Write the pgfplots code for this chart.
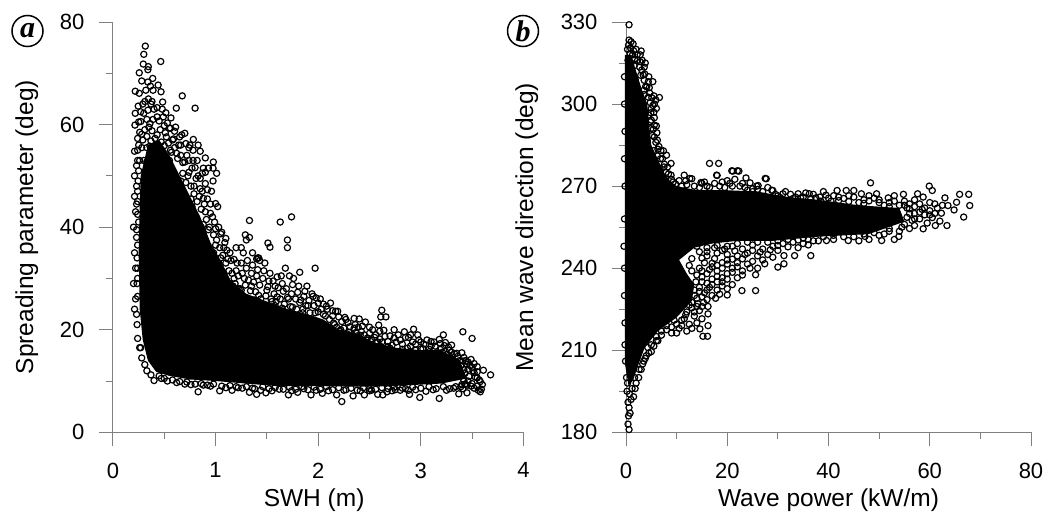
\documentclass[border=0pt]{standalone}
\usepackage{pgfplots}
\pgfplotsset{compat=1.18}
\usepackage{fontspec}
\setmainfont{Liberation Sans}
\newfontfamily\lserif{Liberation Serif}
\definecolor{axgray}{HTML}{808080}
\pgfplotsset{
  panel/.style={
    scale only axis, clip=false, anchor=south west,
    axis x line=bottom, axis y line=left, axis line style={-,axgray,line width=1pt},
    tick style={axgray,line width=1pt}, tick align=outside,
    major tick length=14pt, minor tick length=7pt, minor tick num=1,
    tick label style={font=\fontsize{22}{22}\selectfont,/pgf/number format/assume math mode=true},
    xticklabel style={yshift=-13pt}, yticklabel style={xshift=-11pt},
  },
  pts/.style={only marks, mark=o, mark size=3.1pt, mark options={black,line width=1.2pt}},
  core/.style={draw=none, fill=black, forget plot},
}
\begin{document}
\begin{tikzpicture}[x=1pt,y=1pt]
\useasboundingbox (0,0) rectangle (1053,515);
% ---------------- panel a
\begin{axis}[panel, at={(113pt,82.7pt)}, width=410.4pt, height=410.3pt,
  xmin=0, xmax=4, ymin=0, ymax=80, xtick={0,1,2,3,4}, ytick={0,20,40,60,80},
  xlabel={SWH (m)}, ylabel={Spreading parameter (deg)},
  every axis x label/.style={at={(axis description cs:0.49,-0.166)},anchor=center,font=\fontsize{24.5}{26}\selectfont},
  every axis y label/.style={at={(axis description cs:-0.21,0.5)},rotate=90,anchor=center,font=\fontsize{24.5}{26}\selectfont}]
% region where overlapping markers saturate to solid black: outline
\addplot[core] coordinates {(.27,50)(.34,56)(.45,57)(.55,54)(.65,50)(.75,46)(.85,42)(.95,37)(1.05,33.5)(1.15,29.5)(1.3,27)(1.5,25.5)(1.7,24)(1.9,23)(2.05,22)(2.2,20)(2.4,19)(2.55,17.5)(2.75,16.5)(3,16)(3.2,16)(3.38,14)(3.45,10.5)(3.2,9.5)(3,9.3)(2.7,9)(2.4,8.9)(2,9)(1.6,9)(1.3,9.5)(1,10)(.75,10.3)(.55,11)(.42,11.8)(.34,14)(.29,18)(.26,24)(.25,35)(.26,44)} -- cycle;
\addplot[pts] coordinates {
(.315,75.3)(.30,73.7)(.465,72.3)(.295,71.8)(.344,71.3)(.34,70.7)(.256,70.1)(.28,68.5)(.387,69)(.34,68.3)(.44,67.7)(.365,67.5)(.217,66.5)(.256,66.1)(.32,66.7)(.468,66.4)(.39,66.7)(.675,65.6)(.484,64.4)(.8,63.2)(.617,63.2)(.345,65)(.37,64)(.246,63.6)(.217,62.2)(.3,62.2)(.4,63)(.43,63.3)(.48,63)(.515,62.3)(.565,61.3)(.214,59.9)(.33,61)(.27,60.6)(.36,60.2)(.45,60.7)(.5,59.8)(.55,59.3)(.6,58.7)(.38,58.8)(.28,58.1)(.24,57.3)(.33,57.7)(.43,58)(.52,57.6)(.59,57.2)(.65,57.6)
(.70,58.3)(.783,57.1)(.83,56)(.66,56)(.75,56)(.74,55.5)(.85,54.8)(.9,53.5)(.978,52.7)(.93,51.5)(1.01,50.5)(.88,51.5)(.87,50.5)(.83,50)(.975,51.5)(.975,49)(.9,50.7)(.72,54)(.78,53)(.8,51.6)(.68,52.6)(.62,54.4)(.56,55)(.74,50.7)(.71,48.7)(.79,48)(.85,47.5)(.92,47.3)(.88,45.6)(.95,44.5)(.82,45)(.76,45.5)(.9,43)(.97,42)(1.02,44)(1,39.7)(1.05,38.7)(1.1,37.8)(1.08,36)(.93,39.5)(.88,40.5)(1,36.5)(1.12,33.8)(1.05,34)(.98,35)(1.15,33.5)(1.18,33.7)(.21,54.8)(.23,52)(.24,55)
(.21,24)(.22,26)(.2,29)(.22,32)(.21,35)(.23,38)(.2,40)(.22,43)(.21,46)(.23,48)(.21,50)(.24,45)(.25,41)(.24,30)(.235,21)(.24,18.3)(.28,14.5)(.33,12)(.4,10.1)(.27,16.5)(.31,13.2)(.37,11.2)
(1.33,41.3)(1.63,41)(1.74,42)(1.29,38.5)(1.33,38)(1.53,36.1)(1.51,36.9)(1.41,34)(1.7,37.5)(1.7,36)(1.97,32)(1.82,31.2)(1.68,32)(1.72,30.5)(1.2,36)(1.25,36)(1.3,37.5)(1.36,35)(1.4,33.8)(1.42,34)(1.43,33.5)(1.25,33)(1.2,31.5)(1.3,32)(1.35,31)(1.28,30)(1.18,30)(1.4,30.5)(1.47,31.5)(1.52,29.5)(1.6,30.3)(1.58,28.5)(1.65,29)(1.75,28.8)(1.8,27.3)(1.87,27.5)(1.95,26.5)(1.5,27.7)(1.35,28.5)(1.25,27.7)(1.42,26.7)(1.6,26.4)(1.7,26.3)(1.82,25.3)(1.9,24.7)(2,25.2)(2.08,24.6)(2.14,23.7)(1.97,23.3)(2.05,23)(1.55,25.5)(1.3,26.2)(1.45,25)(1.75,24.4)(1.65,24.2)(1.85,23.3)
(2.19,23.6)(2.26,22.4)(2.35,22.2)(2.40,22.1)(2.29,21.4)(2.35,20.3)(2.62,23.8)(2.61,22.5)(2.66,22.5)(2.59,20.9)(2.64,19.9)(2.74,20)(2.84,19.6)(2.93,20.1)(2.97,19)(3.22,19)(3.41,19.6)(3.5,18.3)(3.18,18.1)(3.24,17.5)(3.35,15.4)(3.52,13.4)(3.49,14.2)(3.42,14.6)(3.61,12.1)(3.68,11.2)(3.58,9.9)(3.59,8.4)(3.58,7.9)(3.45,7.7)(3.37,7.5)(3.18,6.6)(2.99,6.8)(2.89,7.4)(2.8,8.2)(2.63,7.3)(2.58,7.4)(2.45,7.3)(2.34,7.1)(2.23,6)(2.18,7.3)(2.04,7.6)(1.93,7.3)(1.8,7.8)(1.71,7.3)(1.49,7.7)(1.4,7.4)(1.33,7.8)(1.16,8.2)(1.04,8.1)(.83,7.9)
(2.15,21.3)(2.22,20)(2.3,19.5)(2.42,19.7)(2.5,19.3)(2.55,18.5)(2.47,18)(2.38,18.8)(2.6,18.2)(2.68,17.7)(2.74,18.4)(2.8,18)(2.88,18.5)(2.95,17.2)(3,17.6)(3.02,16.3)(2.9,16.8)(2.82,16.2)(2.7,16.4)(2.6,16.9)(3.08,16.2)(3.14,16.8)(3.2,16.4)(3.27,16.6)(3.3,15.6)(3.12,15.2)(3.05,15)(3.38,14)(3.45,13.3)(3.5,12.7)(3.42,12.2)(3.37,12.6)(3.52,11.6)(3.47,10.9)(3.55,10.6)(3.42,10.1)(3.5,9.5)(3.45,9.2)(3.55,9)(3.39,8.9)(3.32,8.6)(3.25,8.2)(3.12,8.3)(3.05,8)(2.95,8.3)(2.85,8.5)(2.72,8.1)(2.67,7.9)(2.52,8.2)(2.41,8.1)(2.27,8.3)(2.1,8.1)(1.98,8.2)(1.86,8.5)(1.74,8.1)(1.62,8.4)(1.55,8.1)(1.44,8.2)(1.26,8.6)(1.1,8.7)(.95,9)(.88,9.2)(.7,9.4)(.62,9.7)(.53,10)(.47,10.5)(.76,9.3)(1.2,8.9)(1.36,8.6)(2.5,8.5)(2.75,8.3)
(3.55,12.8)(3.46,13.7)(3.4,15.5)(3.3,17)(3.1,17.7)(3.38,11.5)(3.4,9.3)(2.45,17)(2.15,19.3)(1.99,21.5)(1.82,22.5)(1.58,24.7)(1.38,25.8)(1.22,28)(1.14,29)(1.07,31.3)(1.03,33)(.96,34.5)(.9,36.5)(.86,40)(.81,42)(.77,44)(.69,46.7)(.63,48.6)(.57,51)(.5,53.5)(.42,55.5)(.36,55.8)(.3,53)(.28,55.5)(.33,52.7)(.47,52.5)(.55,53)(.66,49)(.7,44.3)(2.9,15.6)(2.56,17.5)(2.3,18.3)
(.26,53)(.29,57)(.31,59)(.33,55.5)(.35,59.5)(.37,56.8)(.39,61)(.41,57.3)(.43,61.5)(.44,55.8)(.46,59)(.47,56.6)(.49,61.5)(.5,55.9)(.51,58.4)(.53,60.3)(.54,56.4)(.56,59.3)(.57,54.6)(.58,57)(.6,55.5)(.61,59.5)(.63,53.4)(.64,56)(.66,54)(.67,58)(.68,50.5)(.7,52.7)(.71,56.3)(.73,50)(.74,53)(.76,48)(.77,51.5)(.78,55)(.79,46.5)(.81,49.5)(.82,53)(.84,46)(.85,49.5)(.86,43.5)(.87,47)(.89,44.5)(.9,48.5)(.91,41.5)(.92,45.5)(.94,40)(.95,42.7)(.96,47)(.98,38.5)(.99,41)(1,44.6)(1.01,37.5)(1.03,40)(1.04,36)(1.06,39)(1.07,34.5)(1.09,37)(1.1,33)(1.11,35.5)(1.13,31.5)(1.14,35)(1.16,31)(1.17,28.5)
(1.19,29)(1.21,33)(1.22,30.5)(1.24,28)(1.26,31)(1.27,35)(1.29,28.7)(1.31,33.5)(1.32,29.7)(1.34,27.6)(1.36,32.6)(1.37,29.3)(1.39,27.4)(1.41,31.7)(1.43,28.7)(1.44,26)(1.46,30)(1.48,33)(1.49,26.6)(1.51,28.4)(1.53,31)(1.54,26)(1.56,29.5)(1.57,27)(1.59,25.5)(1.61,28.2)(1.63,26)(1.64,30.5)(1.66,27.5)(1.67,25)(1.69,28)(1.71,26)(1.73,24.5)(1.74,27)(1.76,30)(1.78,26)(1.79,24)(1.81,28.5)(1.83,25.8)(1.85,24)(1.86,26.5)(1.88,24.7)(1.89,28.5)(1.91,25.7)(1.92,23.3)(1.94,27)(1.96,24.7)(1.98,26.2)(2,23.5)(2.02,26)(2.03,24)(2.05,25)(2.07,22.7)(2.09,24)(2.11,22)(2.12,25.2)(2.14,22.7)(2.16,21)(2.17,23.6)(2.18,20.5)(2.2,22.5)(2.21,19.8)(2.23,21.6)(2.25,20.3)(2.27,22)(2.28,19.2)(2.31,20.6)(2.33,19)(2.36,21)(2.37,19.5)(2.39,20.5)(2.41,18.9)(2.43,20.7)(2.45,19)(2.46,21.5)(2.48,18.4)(2.5,20.5)(2.52,18)(2.53,20)(2.56,19)(2.58,17.6)(2.6,19.7)(2.62,17.6)(2.65,18.7)(2.68,16.7)(2.7,18.8)(2.72,17)(2.76,17.6)(2.78,19)(2.82,17.2)(2.85,18.5)(2.87,16.4)(2.9,19)(2.92,17.6)(2.95,16)(2.98,18)(3,16.2)(3.03,17.2)(3.06,18)(3.08,15.7)(3.1,16.8)(3.13,17.6)(3.16,15.5)(3.19,17.3)(3.21,15.6)(3.23,16.9)(3.26,15.2)(3.28,16)(3.31,14.2)(3.33,15.3)(3.36,14.8)(3.39,13)(3.41,13.9)(3.43,11.5)(3.44,14)(3.46,12.3)(3.48,13)(3.51,12)(3.53,10.8)(3.55,11.8)(3.57,10.2)(3.46,10)(3.43,9.4)(3.49,9)(3.52,8.6)(3.56,8.2)(3.6,9.3)(3.41,8.5)
(.45,11)(.5,10.5)(.58,10.2)(.65,9.9)(.72,9.8)(.8,9.4)(.86,9.5)(.92,9.2)(.98,9.4)(1.06,9)(1.14,9.1)(1.22,8.7)(1.3,8.9)(1.38,8.5)(1.46,8.9)(1.52,8.5)(1.58,8.7)(1.66,8.4)(1.72,8.8)(1.78,8.4)(1.84,8.9)(1.9,8.3)(1.96,8.8)(2.02,8.4)(2.08,8.9)(2.14,8.3)(2.2,8.7)(2.25,8.2)(2.32,8.6)(2.38,8.2)(2.44,8.7)(2.5,8.1)(2.56,8.4)(2.62,8.7)(2.68,8.5)(2.74,8.8)(2.82,8.6)(2.88,8.2)(2.92,8.8)(3,8.6)(3.08,8.9)(3.15,8.5)(3.22,8.9)(3.28,8.5)(3.34,8.9)
(.23,23)(.24,26.5)(.235,29)(.24,32)(.235,34)(.24,36.5)(.23,39.5)(.24,42.5)(.23,44.5)(.24,47)(.245,49)(.25,51)(.24,53)(.25,56)(.26,58.5)(.25,60.5)(.27,62.5)(.29,64)(.31,64.5)(.34,62.8)(.38,64.5)(.26,16.5)
};
\end{axis}
% ---------------- panel b
\begin{axis}[panel, at={(626pt,82.7pt)}, width=405pt, height=410.3pt,
  xmin=0, xmax=80, ymin=180, ymax=330, xtick={0,20,40,60,80}, ytick={180,210,240,270,300,330},
  xlabel={Wave power (kW/m)}, ylabel={Mean wave direction (deg)},
  every axis x label/.style={at={(axis description cs:0.5,-0.166)},anchor=center,font=\fontsize{24.5}{26}\selectfont},
  every axis y label/.style={at={(axis description cs:-0.245,0.5)},rotate=90,anchor=center,font=\fontsize{24.5}{26}\selectfont}]
% region where overlapping markers saturate to solid black: outline
\addplot[core] coordinates {(-.2,205)(-.2,318)(1,318)(2,312)(3,306)(4.2,300)(4.6,292)(5,285)(6,281)(7.2,276)(8.5,272)(10,270)(14,268.5)(20,268.5)(26,268)(32,266)(38,265)(46,263)(54,262)(55,257)(48,252.5)(38,251.5)(29,250)(22,250)(17,249)(13.5,247.5)(10.5,243)(12,238)(13.5,234)(13,228)(10,222)(6.3,217)(3.7,211)(2.5,205)(1.4,199)(.5,197)} -- cycle;
\addplot[pts] coordinates {
(.6,329)(.6,323.4)(1,322.8)(1.4,322)(.5,321.6)(3,319.4)(2.8,318)(.8,318.5)(3.8,315)(3.1,312.4)(3.4,310.6)(4.4,308.2)(5.3,308.2)(4.1,306.3)(6.6,302.4)(5.1,302.3)(5.9,301.5)(6,298.4)(5,298.4)(4.4,296)(5,294.1)(5.6,292.3)(6.1,289.5)(6.2,286.8)(7.4,282.9)(8,281.3)(8.9,278.3)(8.9,274)(11.5,274)(12.6,272.8)(14.8,271.3)(16.5,278.3)(18.3,278.3)(17.9,274)(20.9,275.6)(22,275.6)(23.7,273)(27.5,272.8)(25.8,270)(28.8,268.5)(2,320)(1.3,318)(2.3,316)(3.2,316)(1.6,314)(3.6,303.5)(4.7,304)(5.6,300)(4.9,291)(6.3,283.5)(5.6,288)(6.8,280)(7.6,278)(7.9,275)(9.3,271.5)
(13,272.7)(18,273.9)(21.1,275.5)(22.3,275.5)(27.7,272.7)(29,268.4)(26.1,270.2)(48.3,271.2)(41.7,268.4)(43.5,268.4)(45,268.4)(46.5,267.2)(49.5,267.2)(38.3,266)(36.2,267.2)(34,267.2)(31,267.2)(40,265.6)(51.8,265.7)(54.8,267)(57.6,267.2)(59.9,270)(60.5,268.4)(58.7,266)(63,265.7)(65.9,267)(67.7,267)(67.9,262.9)(65.3,264.1)(63.6,262.9)(64.8,261.3)(66.7,258.7)(63.4,255.6)(61.1,255.6)(58.7,254.4)(62.3,260.1)(61,263.5)(62,257.2)(57,255.6)(53.9,251.6)(50.5,250.1)(47.2,251.6)(43.9,250.1)(39.6,250.1)(36,248.5)(36.5,244.6)(33.3,244.6)(31.2,244.6)(30,240.4)(31.2,241.6)(27.4,241.6)(25.6,237.6)(25.6,231.8)(22.9,231.8)(20,230.2)(17.7,229)(16.2,226)(16.2,223.3)(16.2,219)(15.2,215.1)(16.1,215.1)(14.6,217.8)(10,216.3)(9,216.3)(6.3,213.5)(4.3,211)
(.6,181)(.4,183)(.5,186)(.6,189)(1,192)(1.5,193)(1.2,196)(2,198)(2.5,200)(3,203)(3.3,205)(.7,194)(1.7,200)(3.8,207)(4.5,209)(.4,191)(.8,187)(1.8,196)(2.6,203)(5,212)(6,215)(7,217)(8,219)(9.5,221)
(15,271)(19,271.5)(23,271)(24,268.5)(20,272)(16,270)(12,270.5)(21,270)(25,268)(30,266.5)(33,265.5)(35,266)(37,267)(39,268)(42,266)(44,266.5)(47,265)(48,266.5)(50,265)(52,264)(53,266.5)(55,264.5)(56,263.5)(57,265)(58,263.5)(59,262)(60,264)(60,261)(61.5,262)(62.5,263)(59,259.5)(60.5,258.5)(58,258)(59.5,256.5)(56.5,257.5)(57,260)(55.5,262)(56,254.5)(54.5,255)(52,253.5)(53,250.5)(50,252)(48,250.5)(46,250)(41,250.5)(37,250)(35,251)(33,249.5)(31,249)(29,248)(27,247)(25,248.5)(23,247)(21,248)(19,246.5)(30,246.5)(28,245)(26,244.5)(24,245.5)(22,244.5)(20,245)(18,245.5)(16,244.5)(14.5,246)(27,243)(24,241.5)(22,242)(20,243)(17.5,243.5)(15.5,242)(13,243.5)(21,240)(23,239)(24.5,240)(19,240)(17,240.5)(14.5,240)(12.5,241)(20,238)(22,236.5)(18,237)(16,238)(14,237.5)(19,235)(21,234)(17,234)(15,235)(18,232)(20,232.5)(16,232)(14.5,231.5)(17,230)(15,229.5)(13.5,230)(14.2,227)(15.3,227.5)(13,225.5)(14.5,224.5)(12,224)(13.5,222.5)(15,221.5)(11.5,221.5)(12.5,219.5)(11,219)(14,220)(13,218)
(-.3,300)(-.3,310)(-.2,290)(-.3,280)(-.2,270)(-.3,258)(-.4,248)(-.3,240)(-.3,230)(-.2,220)(-.2,212)(-.1,206)(.1,200)(.3,198)(.2,195)(1,315)(1.8,309)(2.7,302)(3.8,297)
(.3,320)(.9,320.5)(1.5,319.5)(2.2,318)(.4,316)(1.7,316.5)(2.8,315.5)(3.6,313.5)(2.7,313.5)(3.7,311)(2.9,310.5)(4.5,310)(3.6,308.7)(3.9,306.5)(4.6,306)(3.5,305)(4.4,302.5)(5.5,303)(4.8,300.5)(5.3,299.5)(4.9,296.8)(5.5,297)(5.6,295)(4.8,293.5)(5.4,290.8)(6,292)(5.2,288.5)(5.9,286)(6.5,284.5)(5.5,283)(6.9,283)(6.2,281)(7.2,280)(7.5,277)(6.7,276.5)(8.2,277)(8.4,274.5)(7.6,272.5)(9,272.5)(9.8,270.8)(10.5,272)(11,270)(11.8,272)
(13.5,270)(14.5,269.5)(15.5,271.5)(16.5,269.5)(17.5,271)(18.5,270)(19.5,269.5)(20.5,271)(21.5,272.5)(22.5,270)(23.5,269.5)(24.5,271.2)(25,269)(26,268.8)(27,268)(28,269.5)(29.5,267)(30.5,265.8)(31.5,268)(32.5,267)(33.5,266)(34.5,265.7)(35.5,267.5)(36.5,265.5)(37.5,265.7)(38.5,264.5)(39.5,266.7)(40.5,264.5)(41,266.5)(42,264.7)(43,265.5)(44,264.4)(45,266)(46,264)(47,263.7)(48,264.6)(49,265.6)(50,264)(51,263)(52,262.5)(53,264.5)(54,263)(55,263)(56,261.7)(57,262.5)(58,260.5)(56,260)(55.5,258.6)(58.5,261.5)(60,259.5)(61,260)(57,258)
(55,256)(54,253.5)(52,254.5)(51,252.5)(49,253)(47,252.5)(45,251.5)(43,251.5)(41,252)(39,251.5)(38,250)(36,250.5)(34,250.3)(32,250.5)(30,250)(28,249.5)(26,249.5)(24,249.5)(22,249)(20,248)(18,248.3)(16,247.5)(14,248)
(35,249)(34,247.5)(32,247.8)(30,248.3)(28.5,246.7)(26.5,245.9)(25,246.5)(23.5,245)(21.5,246.3)(19.5,247)(17.5,247.5)(16,246)(15,243.7)(17,241.8)(19,242)(21,243.3)(23,243.4)(25,242.5)(29,244)(13,239)(15,239)(16.5,239.5)(18,239)(18,241)(20,241.5)(22,240.5)(26,240)(21,238.5)(23,237.5)(19,236.5)(17,236)(15,236.8)(13.8,235)(16,234.5)(18,235)(20,236)(14.5,233)(16.5,233)(19,233.5)(15.5,231)(13.5,232)(18.5,230.5)(14,229)(16,228.5)(13,227.5)(14,226)(12.5,226.5)(15,226)(11.8,223)(13.5,224)(11,221)(10,219.5)(12,217)(9,218.5)(8,217.5)(7,215.5)(10.5,218)(6,213.5)(5.5,211.5)(5,209.5)(4,208)(3.5,206)
};
\end{axis}
% panel letters
\node[circle,draw=black,line width=1.5pt,minimum size=31pt,inner sep=0pt,font=\lserif\bfseries\itshape\fontsize{30}{30}\selectfont] at (27.5,484) {\raisebox{2pt}{a}};
\node[circle,draw=black,line width=1.5pt,minimum size=31pt,inner sep=0pt,font=\lserif\bfseries\itshape\fontsize{30}{30}\selectfont] at (523,484) {b};
\end{tikzpicture}
\end{document}
